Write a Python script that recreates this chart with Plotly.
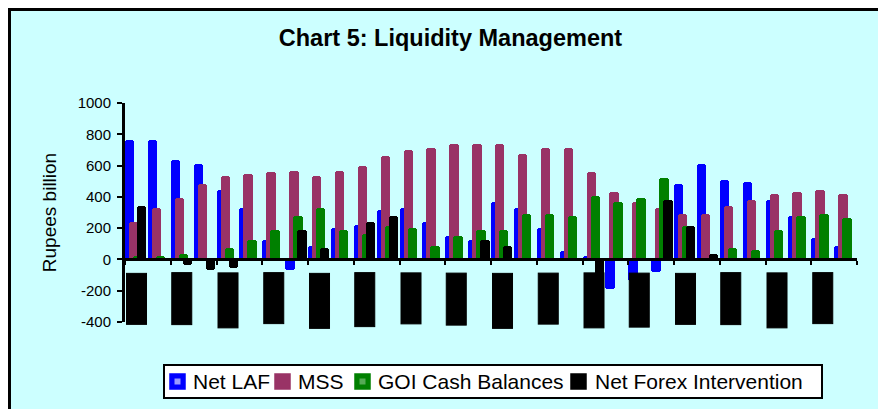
import plotly.graph_objects as go

# ---------------- data ----------------
categories = [
    "Apr-04", "May-04", "Jun-04", "Jul-04", "Aug-04", "Sep-04", "Oct-04", "Nov-04",
    "Dec-04", "Jan-05", "Feb-05", "Mar-05", "Apr-05", "May-05", "Jun-05", "Jul-05",
    "Aug-05", "Sep-05", "Oct-05", "Nov-05", "Dec-05", "Jan-06", "Feb-06", "Mar-06",
    "Apr-06", "May-06", "Jun-06", "Jul-06", "Aug-06", "Sep-06", "Oct-06", "Nov-06",
]
net_laf = [764, 765, 633, 609, 446, 329, 127, -68, 89, 202, 217, 318, 329, 240, 153, 125,
           369, 329, 202, 53, 21, -187, -138, -81, 484, 609, 507, 495, 380, 280, 136, 89]
mss = [238, 329, 393, 482, 533, 548, 560, 563, 535, 563, 599, 662, 701, 711, 737, 737,
       737, 675, 711, 711, 560, 431, 369, 329, 293, 293, 340, 380, 418, 431, 446, 418]
goi_cash = [21, 21, 34, 3, 74, 125, 191, 280, 329, 191, 164, 212, 202, 89, 153, 191,
            191, 293, 293, 280, 408, 369, 393, 520, 212, 0, 74, 62, 191, 280, 293, 266]
net_forex = [340, 0, -36, -68, -55, 0, 0, 191, 76, 0, 238, 280, 0, 0, 0, 125,
             89, 0, 0, 0, -120, 0, 0, 380, 212, 36, 0, 0, 0, 0, 0, 0]
series_names = ["Net LAF", "MSS", "GOI Cash Balances", "Net Forex Intervention"]
y_tick_values = [-400, -200, 0, 200, 400, 600, 800, 1000]
y_tick_labels = ["-400", "-200", "0", "200", "400", "600", "800", "1000"]
label_step = 2  # every other category carries a label

# ---------------- layout geometry ----------------
W, H = 878, 409
L, R, T, B = 125, 21, 103, 87
PW, PH = W - L - R, H - T - B


def pxx(px):
    return (px - L) / PW


def pxy(py):
    return (H - B - py) / PH


FONT = "Arial, Liberation Sans, Helvetica, sans-serif"
colors = ["#0000FF", "#993366", "#008000", "#000000"]
key_inner = ["#9999FF", None, "#55AA55", None]   # lighter centre of some legend keys
values = [net_laf, mss, goi_cash, net_forex]
bar_w = 0.41
offsets = [-0.5, -0.325, -0.15, 0.025]

# legend box / key placement (pixels in the 878x409 picture)
legend_box = (164, 822, 365, 398)
key_left = [170, 275, 355, 571]
text_left = [191, 296, 376, 593]
key_size = 15

x_idx = list(range(len(categories)))

fig = go.Figure()
for name, vals, col, off in zip(series_names, values, colors, offsets):
    fig.add_trace(go.Bar(
        x=x_idx, y=vals, name=name, showlegend=False,
        marker=dict(color=col, cornerradius=3, line=dict(width=0)),
        width=bar_w, offset=off,
        customdata=categories,
        hovertemplate="%{customdata}: %{y}<extra>" + name + "</extra>",
    ))

# category labels rendered as black blocks (as in the reference)
annotations = []
for i in range(0, len(categories), label_step):
    annotations.append(dict(
        x=i, y=0, xref="x", yref="y",
        text=categories[i], showarrow=False, textangle=-90,
        font=dict(family=FONT, size=16, color="black"),
        bgcolor="black", height=17, borderpad=1, borderwidth=1, bordercolor="black",
        xanchor="center", yanchor="top", yshift=-13,
    ))

shapes = [dict(
    type="rect", xref="paper", yref="paper", layer="below",
    x0=pxx(9.5), x1=pxx(905), y0=pxy(430), y1=pxy(9.5),
    fillcolor="#CCFFFF", line=dict(color="black", width=3),
)]

# legend drawn in the Excel style: framed white box with rounded colour keys
lx0, lx1, ly0, ly1 = legend_box
shapes.append(dict(
    type="rect", xref="paper", yref="paper", layer="above",
    x0=pxx(lx0), x1=pxx(lx1), y0=pxy(ly1), y1=pxy(ly0),
    fillcolor="white", line=dict(color="black", width=2),
))
ymid = (ly0 + ly1) / 2
for name, col, inner, kx, tx in zip(series_names, colors, key_inner, key_left, text_left):
    shapes.append(dict(
        type="rect", xref="paper", yref="paper", layer="above",
        x0=pxx(kx), x1=pxx(kx + key_size),
        y0=pxy(ymid + key_size / 2), y1=pxy(ymid - key_size / 2),
        fillcolor=col, line=dict(color=col, width=1.5),
    ))
    if inner:
        shapes.append(dict(
            type="rect", xref="paper", yref="paper", layer="above",
            x0=pxx(kx + 4.5), x1=pxx(kx + key_size - 4.5),
            y0=pxy(ymid + key_size / 2 - 4.5), y1=pxy(ymid - key_size / 2 + 4.5),
            fillcolor=inner, line=dict(width=0),
        ))
    annotations.append(dict(
        x=pxx(tx), y=pxy(ymid), xref="paper", yref="paper",
        text=name, showarrow=False, xanchor="left", yanchor="middle",
        font=dict(family=FONT, size=21, color="black"),
    ))

ymin, ymax = y_tick_values[0], y_tick_values[-1]
zero_pos = (0 - ymin) / (ymax - ymin)

fig.update_layout(
    width=W, height=H,
    autosize=False,
    margin=dict(l=L, r=R, t=T, b=B, pad=0, autoexpand=False),
    paper_bgcolor="white",
    plot_bgcolor="rgba(0,0,0,0)",
    barmode="overlay",
    bargap=0,
    showlegend=False,
    font=dict(family=FONT, color="black"),
    title=dict(
        text="Chart 5: Liquidity Management",
        font=dict(family=FONT, size=23.5, color="black", weight="bold"),
        xref="container", x=450.5 / W, xanchor="center",
        yref="container", y=(H - 38) / H, yanchor="middle",
    ),
    xaxis=dict(
        range=[-0.5, len(categories) - 0.5],
        anchor="free", position=zero_pos,
        showline=True, linecolor="black", linewidth=3,
        ticks="outside", ticklen=4, tickwidth=2, tickcolor="black",
        tickvals=[i - 0.5 for i in range(0, len(categories) + 1, label_step)],
        showticklabels=False, showgrid=False, zeroline=False,
        automargin=False, fixedrange=True,
    ),
    yaxis=dict(
        range=[ymin, ymax],
        tickvals=y_tick_values, ticktext=y_tick_labels,
        showline=True, linecolor="black", linewidth=3,
        ticks="outside", ticklen=5, tickwidth=2, tickcolor="black",
        tickfont=dict(family=FONT, size=15, color="black"),
        ticklabelstandoff=3,
        showgrid=False, zeroline=False,
        title=dict(text="Rupees billion", font=dict(family=FONT, size=19, color="black"),
                   standoff=16),
        automargin=False, fixedrange=True,
    ),
    annotations=annotations,
    shapes=shapes,
)

fig.write_html(
    "out.html",
    config={"displayModeBar": False},
    post_script="document.body.style.margin='0';document.body.style.overflow='hidden';",
)
